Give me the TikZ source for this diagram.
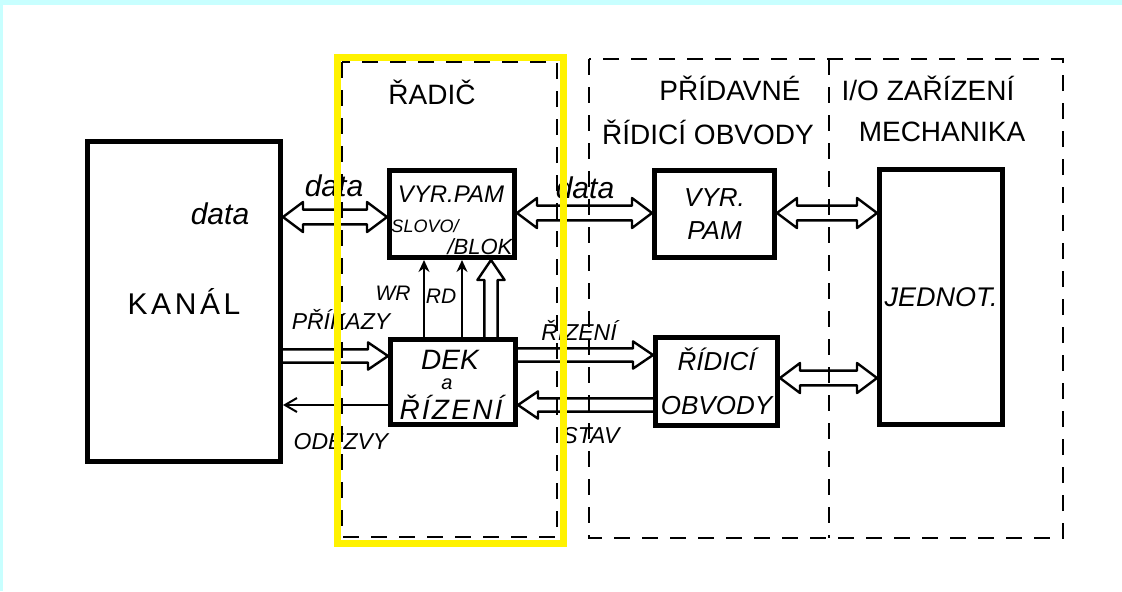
\documentclass[tikz,border=0pt]{standalone}
\usepackage{fontspec}
\setmainfont{Liberation Sans}
\usetikzlibrary{arrows.meta, calc}

\definecolor{framecyan}{RGB}{200,255,255}

\begin{document}
\begin{tikzpicture}[x=0.5pt, y=-0.5pt,
    blk/.style={draw, line width=2.5pt, inner sep=0pt, align=center},
    title/.style={font=\fontsize{14}{17}\selectfont},
    lbl/.style={font=\fontsize{11.5}{14}\selectfont\itshape},
    datalbl/.style={font=\fontsize{15}{17}\selectfont\itshape},
    sig/.style={-{Stealth[length=6pt, width=5.5pt]}, line width=1pt},
    region/.style={line width=1.4pt, dash pattern=on 8pt off 6pt},
    fatboth/.style={line width=1.2pt, line join=round, to path={
        ($(\tikztostart)!10pt!(\tikztotarget)$) coordinate (fa)
        ($(\tikztotarget)!10pt!(\tikztostart)$) coordinate (fb)
        (\tikztostart) -- ($(fa)!7.5pt!90:(\tikztotarget)$) -- ($(fa)!3.7pt!90:(\tikztotarget)$)
        -- ($(fb)!3.7pt!90:(\tikztotarget)$) -- ($(fb)!7.5pt!90:(\tikztotarget)$) -- (\tikztotarget)
        -- ($(fb)!7.5pt!-90:(\tikztotarget)$) -- ($(fb)!3.7pt!-90:(\tikztotarget)$)
        -- ($(fa)!3.7pt!-90:(\tikztotarget)$) -- ($(fa)!7.5pt!-90:(\tikztotarget)$) -- cycle}},
    fatone/.style={line width=1.2pt, line join=round, to path={
        ($(\tikztotarget)!10pt!(\tikztostart)$) coordinate (fh)
        ($(\tikztostart)!3.3pt!90:(\tikztotarget)$) -- ($(fh)!3.3pt!90:(\tikztotarget)$)
        -- ($(fh)!6.8pt!90:(\tikztotarget)$) -- (\tikztotarget) -- ($(fh)!6.8pt!-90:(\tikztotarget)$)
        -- ($(fh)!3.3pt!-90:(\tikztotarget)$) -- ($(\tikztostart)!3.3pt!-90:(\tikztotarget)$)}}
]
% frame of the slide
\fill[framecyan] (0,0) rectangle (1122,591);
\fill[white] (3,5) rectangle (1122,591);
\useasboundingbox (0,0) rectangle (1122,591);

% regions
\draw[region] (342,62) rectangle (557,537);
\draw[region] (589,59) rectangle (1063,538);
\draw[region] (829,59) -- (829,538);

\node[title] (radic) at (432,92) {ŘADIČ};
\node[title] (pridavne) at (730,88) {PŘÍDAVNÉ};
\node[title] (ridtitle) at (708,132) {ŘÍDICÍ OBVODY};
\node[title] (iozar) at (928,88) {I/O ZAŘÍZENÍ};
\node[title] (mech) at (942,132) {MECHANIKA};

% blocks
\node[blk, minimum width=96.5pt, minimum height=160pt,
      font=\fontsize{15}{17}\selectfont\addfontfeatures{LetterSpace=12}] (kanal) at (184,301) {KANÁL};
\node[datalbl] (kdata) at (220,214) {data};

\node[blk, minimum width=62.5pt, minimum height=43.5pt] (vyrc) at (452,214) {};
\node[font=\fontsize{12}{14}\selectfont\itshape] (vyrctxt) at (451,194) {VYR.PAM};
\node[font=\fontsize{9}{11}\selectfont\itshape] (slovo) at (425,226) {SLOVO/};
\node[font=\fontsize{11}{13}\selectfont\itshape] (blok) at (480,247) {/BLOK};

\node[blk, minimum width=62.5pt, minimum height=42.5pt] (dek) at (453,382) {};
\node[inner sep=0.5pt, font=\fontsize{14}{17}\selectfont\itshape] (dektxt) at (450,360) {DEK};
\node[inner sep=0.5pt, font=\fontsize{10}{12}\selectfont\itshape] (deka) at (447,384) {a};
\node[inner sep=0.5pt, font=\fontsize{14}{17}\selectfont\itshape\addfontfeatures{LetterSpace=8}] (dekriz) at (451,407) {ŘÍZENÍ};

\node[blk, minimum width=60pt, minimum height=43.5pt,
      font=\fontsize{13}{16.5}\selectfont\itshape] (vyrp) at (714.5,214) {VYR.\\PAM};
\node[blk, minimum width=61pt, minimum height=44pt,
      font=\fontsize{13}{22}\selectfont\itshape] (ridob) at (716.5,381.5) {ŘÍDICÍ\\OBVODY};
\node[blk, minimum width=61.5pt, minimum height=127.5pt,
      font=\fontsize{13.5}{16}\selectfont\itshape] (jed) at (941,297) {JEDNOT.};

% connectors
\draw[fatboth] (kanal.east |- 0,217) to (vyrc.west |- 0,217);
\draw[fatboth] (vyrc.east |- 0,213) to (vyrp.west |- 0,213);
\draw[fatboth] (vyrp.east |- 0,213) to (jed.west |- 0,213);
\draw[fatboth] (ridob.east |- 0,378) to (jed.west |- 0,378);
\draw[fatone] (kanal.east |- 0,356) to (dek.west |- 0,356);
\draw[-{Straight Barb[length=6pt, width=7pt]}, line width=1pt] (dek.west |- 0,405) -- (kanal.east |- 0,405);
\draw[fatone] (dek.east |- 0,355) to (ridob.west |- 0,355);
\draw[fatone] (ridob.west |- 0,405) to (dek.east |- 0,405);
\draw[sig] (dek.north -| 424,0) -- (vyrc.south -| 424,0);
\draw[sig] (dek.north -| 462,0) -- (vyrc.south -| 462,0);
\draw[fatone] (dek.north -| 491,0) to (vyrc.south -| 491,0);

% connector labels
\node[datalbl] (ldata) at (334,186) {data};
\node[datalbl] (rdata) at (585,188) {data};
\node[lbl] (prikazy) at (341,319) {PŘÍKAZY};
\node[lbl] (odezvy) at (341,442) {ODEZVY};
\node[lbl, font=\fontsize{10.5}{12}\selectfont\itshape] (wr) at (393,293) {WR};
\node[lbl, font=\fontsize{10.5}{12}\selectfont\itshape] (rd) at (441,296) {RD};
\node[lbl] (rizlbl) at (579,330) {ŘÍZENÍ};
\node[lbl] (stav) at (591,436) {STAV};

% highlight
\draw[yellow, line width=3.5pt] (337,57) rectangle (563,543);
\end{tikzpicture}
\end{document}
